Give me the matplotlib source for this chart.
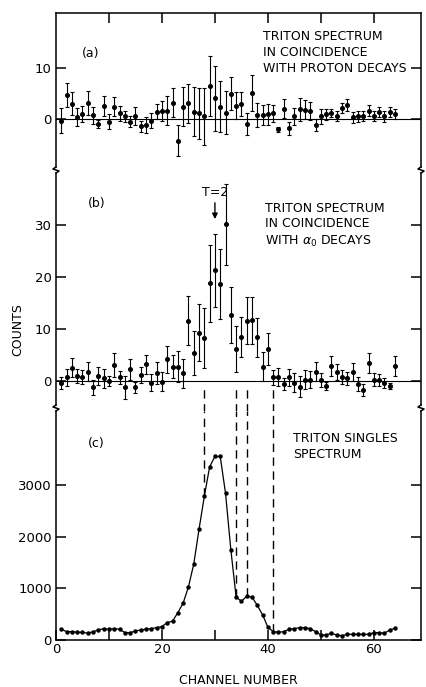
import numpy as np
from matplotlib import pyplot as plt
from matplotlib.lines import Line2D

chan = np.arange(1, 65)

# (a) coincidence with proton decays
a_val = [-0.3, 4.7, 3.0, 0.4, 1.0, 3.1, 0.7, -1.0, 2.5, -0.5,
         2.4, 1.1, 0.5, -0.5, 0.6, -1.4, -1.2, -0.3, 1.4, 1.6,
         1.6, 3.2, -4.2, 2.4, 3.1, 1.4, 1.1, 0.5, 6.4, 4.0,
         2.4, 1.2, 4.9, 2.6, 2.9, -1.0, 5.0, 0.8, 0.8, 0.9,
         1.1, -2.0, 2.0, -1.8, 0.5, 1.9, 1.8, 1.6, -1.2, 0.5,
         0.9, 1.1, 0.6, 2.1, 2.7, 0.3, 0.5, 0.6, 1.6, 0.6,
         1.3, 0.5, 1.3, 0.9]
a_err = [2.5, 2.3, 2.3, 1.7, 1.6, 2.3, 1.7, 0.8, 2.0, 1.4,
         1.9, 1.5, 1.1, 1.0, 1.8, 1.1, 1.5, 1.5, 1.5, 1.9,
         2.8, 2.9, 3.0, 3.8, 3.8, 4.8, 5.0, 5.5, 5.9, 6.3,
         5.0, 4.2, 3.2, 2.6, 2.3, 2.1, 3.5, 2.4, 1.9, 2.0,
         1.7, 0.5, 1.8, 1.3, 1.6, 2.2, 1.9, 1.8, 1.1, 1.4,
         1.1, 0.8, 0.9, 1.0, 1.2, 1.0, 1.0, 1.0, 1.1, 0.9,
         1.0, 1.0, 1.0, 1.0]

# (b) coincidence with alpha0 decays
b_val = [-0.4, 0.7, 2.6, 1.0, 0.8, 1.8, -1.2, 1.0, 0.5, 0.0,
         3.1, 0.7, -1.2, 2.3, -1.2, 1.2, 3.2, -0.3, 1.5, -0.1,
         4.2, 2.8, 2.8, 1.5, 11.6, 5.4, 9.3, 8.3, 18.8, 21.3,
         18.7, 30.1, 12.7, 6.2, 8.5, 11.6, 11.7, 8.4, 2.8, 6.2,
         0.7, 0.8, -0.6, 0.7, -0.3, -1.1, 0.3, 0.3, 1.8, 0.2,
         -1.0, 2.9, 1.8, 0.8, 0.5, 1.7, -0.6, -1.7, 3.5, 0.3,
         0.2, -0.4, -1.0, 2.9]
b_err = [1.1, 1.6, 1.9, 1.4, 1.4, 1.8, 1.5, 1.8, 1.8, 1.0,
         2.3, 1.3, 2.2, 2.0, 1.0, 1.6, 1.9, 1.7, 2.1, 1.8,
         2.6, 2.2, 3.0, 2.8, 4.7, 4.2, 5.5, 5.8, 7.4, 7.0,
         6.7, 7.8, 5.4, 4.4, 3.8, 4.5, 4.5, 3.7, 2.8, 3.1,
         1.5, 1.8, 1.1, 1.7, 1.8, 2.0, 1.8, 1.7, 1.8, 1.4,
         0.8, 2.0, 1.5, 1.3, 1.3, 1.7, 1.4, 1.1, 1.9, 1.2,
         1.2, 1.0, 0.6, 1.9]

# (c) singles
c_val = [208, 162, 162, 150, 150, 130, 160, 195, 220, 208,
         220, 208, 143, 143, 175, 195, 208, 220, 240, 260,
         338, 364, 530, 714, 1026, 1468, 2143, 2780, 3350, 3550,
         3550, 2840, 1750, 830, 750, 845, 830, 670, 487, 247,
         162, 150, 162, 208, 220, 240, 240, 220, 162, 97,
         97, 130, 97, 84, 110, 110, 110, 110, 110, 143,
         143, 130, 195, 227]

cuts = [28, 34, 36, 41]

W, H = 427, 687
fig = plt.figure(figsize=(W / 100, H / 100), dpi=100)
plt.rcParams['font.family'] = 'DejaVu Sans'

xl, xr = 56, 421


def rect(top, bot):
    return [xl / W, 1 - bot / H, (xr - xl) / W, (bot - top) / H]


ax_a = fig.add_axes(rect(13, 167))
ax_b = fig.add_axes(rect(173, 405))
ax_c = fig.add_axes(rect(411, 640))

for ax in (ax_a, ax_b, ax_c):
    ax.set_xlim(0, 68.9)
    for s in ax.spines.values():
        s.set_linewidth(1.1)
    ax.tick_params(direction='in', length=7, width=1.1, labelsize=9.5,
                   right=True, pad=3)

eb = dict(fmt='o', ms=2.6, color='k', ecolor='k', elinewidth=0.8,
          capsize=1.5, capthick=0.8)

# (a)
ax_a.errorbar(chan, a_val, yerr=a_err, **eb)
ax_a.axhline(0, color='k', lw=0.8)
ax_a.set_ylim(-9.36, 20.66)
ax_a.set_yticks([0, 10])
ax_a.spines['bottom'].set_visible(False)
ax_a.set_xticks([10, 20, 30, 40, 50, 60])
ax_a.tick_params(axis='x', top=True, bottom=False, labelbottom=False, labeltop=False)

# (b)
ax_b.errorbar(chan, b_val, yerr=b_err, **eb)
ax_b.axhline(0, color='k', lw=0.8)
ax_b.set_ylim(-4.6, 40.0)
ax_b.set_yticks([0, 10, 20, 30])
ax_b.spines['top'].set_visible(False)
ax_b.spines['bottom'].set_visible(False)
ax_b.set_xticks([])
ax_b.annotate('', xy=(30, 30.6), xytext=(30, 34.8),
              arrowprops=dict(arrowstyle='-|>', color='k', lw=1.0,
                              mutation_scale=8))
ax_b.text(30, 36.2, 'T=2', ha='center', va='center', fontsize=9)
ax_b.vlines(cuts, -5.9, -1.3, colors='k', lw=1.0, linestyles=(0, (6, 4)),
            clip_on=False)

# (c)
ax_c.plot(chan, c_val, '-o', color='k', lw=0.9, ms=2.2)
ax_c.set_ylim(0, 4430)
ax_c.set_yticks([0, 1000, 2000, 3000])
ax_c.spines['top'].set_visible(False)
ax_c.set_xticks([0, 10, 20, 30, 40, 50, 60])
ax_c.set_xticklabels(['0', '', '20', '', '40', '', '60'])
ax_c.tick_params(axis='x', pad=2)
cut_tops = np.interp(cuts, chan, c_val)
ax_c.vlines(cuts, cut_tops, 4430, colors='k', lw=1.0, linestyles=(0, (6, 4)))


def ftext(x, y, s, **kw):
    kw.setdefault('va', 'center')
    kw.setdefault('fontsize', 9)
    fig.text(x / W, 1 - y / H, s, **kw)


ftext(18, 330, 'COUNTS', rotation=90, ha='center')
ftext(238, 680, 'CHANNEL NUMBER', ha='center')

ftext(82, 54, '(a)')
ftext(263, 37, 'TRITON SPECTRUM')
ftext(263, 53, 'IN COINCIDENCE')
ftext(263, 68, 'WITH PROTON DECAYS')

ftext(88, 204, '(b)')
ftext(265, 208, 'TRITON SPECTRUM')
ftext(265, 224, 'IN COINCIDENCE')
ftext(265, 241, r'WITH $\alpha_0$ DECAYS')

ftext(88, 443, '(c)')
ftext(293, 439, 'TRITON SINGLES')
ftext(293, 455, 'SPECTRUM')

# axis break marks
for x0 in (xl, xr):
    for y0 in (167, 405):
        xs = [x0, x0 - 3, x0 + 3, x0]
        ys = [y0, y0 + 2, y0 + 4, y0 + 6]
        fig.add_artist(Line2D([v / W for v in xs], [1 - v / H for v in ys],
                              color='k', lw=1.1))

fig.savefig('out.png', dpi=100)
